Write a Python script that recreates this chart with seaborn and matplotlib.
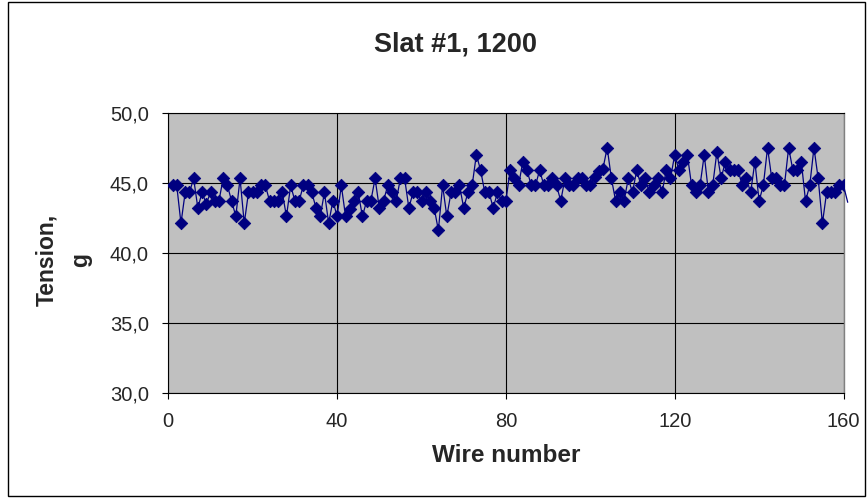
import matplotlib
matplotlib.use("Agg")
import matplotlib.pyplot as plt
import pandas as pd
import seaborn as sns
from matplotlib.patches import Rectangle

# Measured wire tension (g) for wires 1..161 of slat #1
tension = [
    44.8, 44.8, 42.1, 44.3, 44.3, 45.3, 43.2, 44.3, 43.5, 44.3,
    43.7, 43.7, 45.3, 44.8, 43.7, 42.6, 45.3, 42.1, 44.3, 44.3,
    44.3, 44.8, 44.8, 43.7, 43.7, 43.7, 44.3, 42.6, 44.8, 43.7,
    43.7, 44.8, 44.8, 44.3, 43.2, 42.6, 44.3, 42.1, 43.7, 42.6,
    44.8, 42.6, 43.1, 43.7, 44.3, 42.6, 43.7, 43.7, 45.3, 43.2,
    43.7, 44.8, 44.3, 43.7, 45.3, 45.3, 43.2, 44.3, 44.3, 43.7,
    44.3, 43.7, 43.2, 41.6, 44.8, 42.6, 44.3, 44.3, 44.8, 43.2,
    44.3, 44.8, 47.0, 45.9, 44.3, 44.3, 43.2, 44.3, 43.7, 43.7,
    45.9, 45.3, 44.8, 46.5, 45.9, 44.8, 44.8, 45.9, 44.8, 44.8,
    45.3, 44.8, 43.7, 45.3, 44.8, 44.8, 45.3, 45.3, 44.8, 44.8,
    45.4, 45.8, 46.0, 47.5, 45.3, 43.7, 44.3, 43.7, 45.3, 44.3,
    45.9, 44.8, 45.3, 44.3, 44.8, 45.3, 44.3, 45.9, 45.3, 47.0,
    45.9, 46.5, 47.0, 44.8, 44.3, 44.8, 47.0, 44.3, 44.8, 47.2,
    45.3, 46.5, 45.9, 45.9, 45.9, 44.8, 45.3, 44.3, 46.5, 43.7,
    44.8, 47.5, 45.3, 45.3, 44.8, 44.8, 47.5, 45.9, 45.9, 46.5,
    43.7, 44.8, 47.5, 45.3, 42.1, 44.3, 44.3, 44.3, 44.8, 44.8,
    43.6,
]
wire = list(range(1, len(tension) + 1))

x_ticks = [0, 40, 80, 120, 160]
y_ticks = [30, 35, 40, 45, 50]
y_tick_labels = ["30,0", "35,0", "40,0", "45,0", "50,0"]

title = "Slat #1, 1200"
x_title = "Wire number"
y_title = "Tension,\ng"

sns.set_style("white")
plt.rcParams["font.family"] = ["Liberation Sans", "DejaVu Sans"]

navy = "#000080"

fig = plt.figure(figsize=(8.67, 4.98), dpi=100)
W, H = 867, 498
ax = fig.add_axes([168.3 / W, 1 - 392.7 / H, 675.2 / W, 280 / H])
ax.set_facecolor("#C0C0C0")

df = pd.DataFrame({"wire": wire, "tension": tension})
shown = df[df["wire"] <= x_ticks[-1]]

# connecting line (runs on to the next wire past the axis end)
sns.lineplot(data=df, x="wire", y="tension", ax=ax, color=navy,
             linewidth=0.9, clip_on=False, zorder=3)
# diamond markers
sns.scatterplot(data=shown, x="wire", y="tension", ax=ax, marker="D",
                s=40, color=navy, edgecolor=navy, linewidth=0.6,
                zorder=4, legend=False)

ax.set_xlim(x_ticks[0], x_ticks[-1])
ax.set_ylim(y_ticks[0], y_ticks[-1])
ax.set_xticks(x_ticks)
ax.set_xticklabels([str(t) for t in x_ticks])
ax.set_yticks(y_ticks)
ax.set_yticklabels(y_tick_labels)

ax.grid(True, color="black", linewidth=0.8)
ax.set_axisbelow(True)

for side in ["left", "bottom", "top"]:
    ax.spines[side].set_color("black")
    ax.spines[side].set_linewidth(0.8)
ax.spines["right"].set_color("#808080")
ax.spines["right"].set_linewidth(1.0)

ax.tick_params(axis="both", direction="out", length=4, width=0.8,
               color="black", labelsize=14.5, pad=10)
ax.tick_params(axis="both", which="both", bottom=True, left=True)
ax.set_xlabel("")
ax.set_ylabel("")

fig.text(455 / W, 1 - 45 / H, title, ha="center", va="center",
         fontsize=19.5, fontweight="bold")
fig.text(506 / W, 1 - 455 / H, x_title, ha="center", va="center",
         fontsize=17.5, fontweight="bold")
fig.text(64 / W, 1 - 260 / H, y_title, ha="center", va="center",
         rotation=90, multialignment="center", linespacing=1.6,
         fontsize=16.5, fontweight="bold")

# chart frame
fig.patches.append(Rectangle((8 / W, 2 / H), (865 - 8) / W, (496 - 2) / H,
                             transform=fig.transFigure, fill=False,
                             edgecolor="black", linewidth=1.0))

fig.savefig("out.png", dpi=100, facecolor="white")
